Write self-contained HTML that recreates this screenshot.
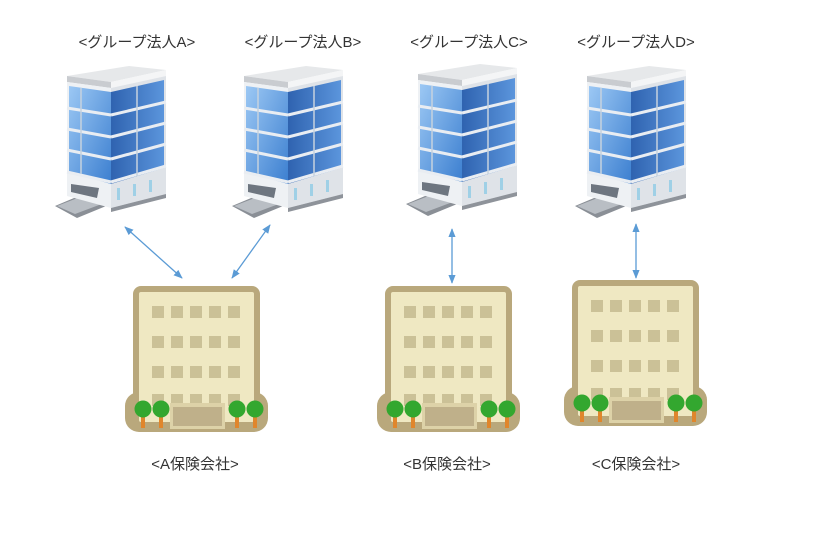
<!DOCTYPE html>
<html><head><meta charset="utf-8"><style>
html,body{margin:0;padding:0;background:#fff;}
svg{display:block;}
text{font-family:"Liberation Sans","Noto Sans CJK JP",sans-serif;font-size:15px;fill:#333;}
</style></head><body>
<svg width="814" height="541" viewBox="0 0 814 541" xmlns="http://www.w3.org/2000/svg">
<defs>
<linearGradient id="bf" x1="0" y1="0" x2="1" y2="1"><stop offset="0" stop-color="#9cc8f4"/><stop offset="1" stop-color="#3c7fd0"/></linearGradient>
<linearGradient id="br" x1="0" y1="0" x2="1" y2="0"><stop offset="0" stop-color="#2f63b0"/><stop offset="1" stop-color="#5b95dc"/></linearGradient>
<g id="blue">
  <polygon points="-12,140 26,124 44,138 10,152" fill="#8a8f96"/>
  <polygon points="-10,140 26,126 40,136 8,148" fill="#b9bec4"/>
  <polygon points="0,10 62,0 99,4 44,16" fill="#e6e8ea"/>
  <polygon points="0,10 44,16 44,22 0,16" fill="#c9ccd0"/>
  <polygon points="44,16 99,4 99,10 44,22" fill="#f4f5f6"/>
  <polygon points="0,16 44,22 44,142 0,130" fill="#eef1f4"/>
  <polygon points="44,22 99,10 99,128 44,142" fill="#dfe3e8"/>
  <polygon points="2,20 44,26 44,118 2,106" fill="url(#bf)"/>
  <polygon points="44,26 97,14 97,102 44,118" fill="url(#br)"/>
  <g stroke="#e9edf2" stroke-width="3">
    <line x1="0" y1="42" x2="44" y2="49"/><line x1="44" y1="49" x2="99" y2="36"/>
    <line x1="0" y1="63" x2="44" y2="71"/><line x1="44" y1="71" x2="99" y2="57"/>
    <line x1="0" y1="84" x2="44" y2="93"/><line x1="44" y1="93" x2="99" y2="78"/>
    <line x1="0" y1="106" x2="44" y2="116"/><line x1="44" y1="116" x2="99" y2="100"/>
  </g>
  <g stroke="#c6d2de" stroke-width="1.5"><line x1="14" y1="22" x2="14" y2="108"/><line x1="70" y1="20" x2="70" y2="110"/></g>
  <polygon points="4,118 32,122 30,132 4,126" fill="#6e7680"/>
  <g fill="#9fd0e6"><rect x="50" y="122" width="3" height="12"/><rect x="66" y="118" width="3" height="12"/><rect x="82" y="114" width="3" height="12"/></g>
  <polygon points="44,142 99,128 99,132 44,146" fill="#8e939a"/>
</g>
<g id="beige">
  <rect x="0" y="0" width="127" height="145" rx="8" fill="#b9a87c"/>
  <rect x="-8" y="106" width="143" height="40" rx="14" fill="#b9a87c"/>
  <rect x="6" y="6" width="115" height="130" rx="2" fill="#efe8c2"/>
  <g fill="#cbc197">
    <rect x="19" y="20" width="12" height="12"/><rect x="38" y="20" width="12" height="12"/><rect x="57" y="20" width="12" height="12"/><rect x="76" y="20" width="12" height="12"/><rect x="95" y="20" width="12" height="12"/>
    <rect x="19" y="50" width="12" height="12"/><rect x="38" y="50" width="12" height="12"/><rect x="57" y="50" width="12" height="12"/><rect x="76" y="50" width="12" height="12"/><rect x="95" y="50" width="12" height="12"/>
    <rect x="19" y="80" width="12" height="12"/><rect x="38" y="80" width="12" height="12"/><rect x="57" y="80" width="12" height="12"/><rect x="76" y="80" width="12" height="12"/><rect x="95" y="80" width="12" height="12"/>
    <rect x="19" y="108" width="12" height="12"/><rect x="38" y="108" width="12" height="12"/><rect x="57" y="108" width="12" height="12"/><rect x="76" y="108" width="12" height="12"/><rect x="95" y="108" width="12" height="12"/>
  </g>
  <rect x="37" y="117" width="55" height="26" fill="#ddd2a8"/>
  <rect x="40" y="121" width="49" height="19" fill="#bfb08a"/>
  <g fill="#e0862c"><rect x="8" y="126" width="4" height="16"/><rect x="26" y="126" width="4" height="16"/><rect x="102" y="126" width="4" height="16"/><rect x="120" y="126" width="4" height="16"/></g>
  <g fill="#33a72f"><circle cx="10" cy="123" r="8.5"/><circle cx="28" cy="123" r="8.5"/><circle cx="104" cy="123" r="8.5"/><circle cx="122" cy="123" r="8.5"/></g>
</g>
<marker id="ah" viewBox="0 0 10 10" refX="9" refY="5" markerWidth="7" markerHeight="7" orient="auto-start-reverse"><path d="M0,1 L10,5 L0,9 z" fill="#5b9bd5"/></marker>
</defs>

<text x="137" y="47" text-anchor="middle">&lt;グループ法人A&gt;</text>
<text x="303" y="47" text-anchor="middle">&lt;グループ法人B&gt;</text>
<text x="469" y="47" text-anchor="middle">&lt;グループ法人C&gt;</text>
<text x="636" y="47" text-anchor="middle">&lt;グループ法人D&gt;</text>

<use href="#blue" transform="translate(67,66)"/>
<use href="#blue" transform="translate(244,66)"/>
<use href="#blue" transform="translate(418,64)"/>
<use href="#blue" transform="translate(587,66)"/>

<g stroke="#5b9bd5" stroke-width="1.3" marker-start="url(#ah)" marker-end="url(#ah)">
<line x1="125" y1="227" x2="182" y2="278"/>
<line x1="270" y1="225" x2="232" y2="278"/>
<line x1="452" y1="229" x2="452" y2="283"/>
<line x1="636" y1="224" x2="636" y2="278"/>
</g>

<use href="#beige" transform="translate(133,286)"/>
<use href="#beige" transform="translate(385,286)"/>
<use href="#beige" transform="translate(572,280)"/>

<text x="195" y="469" text-anchor="middle">&lt;A保険会社&gt;</text>
<text x="447" y="469" text-anchor="middle">&lt;B保険会社&gt;</text>
<text x="636" y="469" text-anchor="middle">&lt;C保険会社&gt;</text>
</svg>
</body></html>
